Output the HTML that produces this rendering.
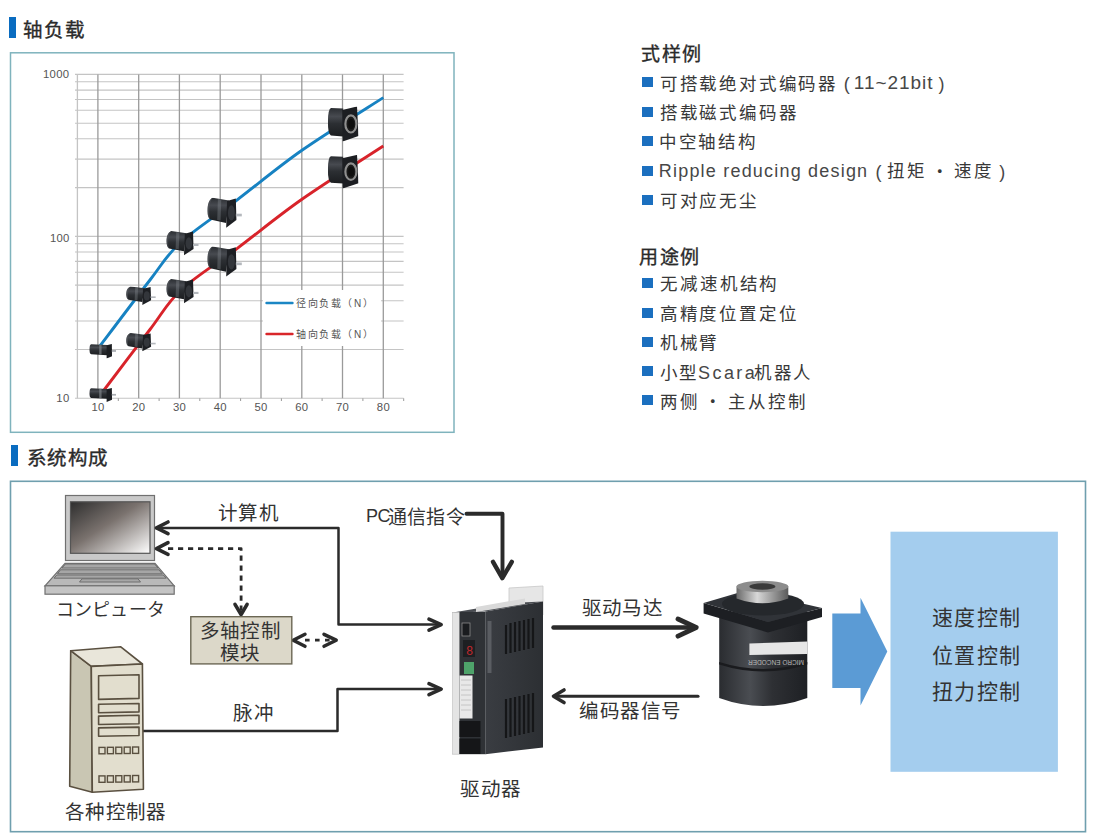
<!DOCTYPE html>
<html lang="zh-CN"><head><meta charset="utf-8">
<style>
html,body{margin:0;padding:0;background:#fff;}
body{width:1098px;height:840px;position:relative;overflow:hidden;font-family:"Liberation Sans",sans-serif;color:#333;}
.t{position:absolute;white-space:nowrap;line-height:1;}
.h{font-size:20px;font-weight:bold;color:#2a2a2a;}
.sub{font-size:18px;font-weight:bold;color:#2a2a2a;}
.li{font-size:18px;color:#3a3a3a;letter-spacing:1.8px;}
.sq{position:absolute;width:11px;height:10px;background:#1b6fbf;}
.bar{position:absolute;background:#0a6cc0;}
.ax{font-size:11px;color:#444;}
.lg{font-size:10px;color:#555;letter-spacing:1.5px;}
.dg{font-size:19px;color:#333;}
svg{position:absolute;left:0;top:0;}
</style></head><body>
<svg width="1098" height="840" viewBox="0 0 1098 840">
<!-- chart box -->
<rect x="10.5" y="52.8" width="443.5" height="379.5" fill="none" stroke="#7fb3bd" stroke-width="1.5"/>
<g stroke="#c4c4c4" stroke-width="1.1">
<line x1="75" y1="398.3" x2="403.6" y2="398.3"/>
<line x1="75" y1="349.5" x2="403.6" y2="349.5"/>
<line x1="75" y1="321.0" x2="403.6" y2="321.0"/>
<line x1="75" y1="300.8" x2="403.6" y2="300.8"/>
<line x1="75" y1="285.1" x2="403.6" y2="285.1"/>
<line x1="75" y1="272.3" x2="403.6" y2="272.3"/>
<line x1="75" y1="261.4" x2="403.6" y2="261.4"/>
<line x1="75" y1="252.0" x2="403.6" y2="252.0"/>
<line x1="75" y1="243.8" x2="403.6" y2="243.8"/>
<line x1="75" y1="236.4" x2="403.6" y2="236.4"/>
<line x1="75" y1="187.6" x2="403.6" y2="187.6"/>
<line x1="75" y1="159.1" x2="403.6" y2="159.1"/>
<line x1="75" y1="138.8" x2="403.6" y2="138.8"/>
<line x1="75" y1="123.2" x2="403.6" y2="123.2"/>
<line x1="75" y1="110.3" x2="403.6" y2="110.3"/>
<line x1="75" y1="99.5" x2="403.6" y2="99.5"/>
<line x1="75" y1="90.1" x2="403.6" y2="90.1"/>
<line x1="75" y1="81.8" x2="403.6" y2="81.8"/>
<line x1="75" y1="74.4" x2="403.6" y2="74.4"/>

</g>
<g stroke="#9a9a9a" stroke-width="1.3">

<line x1="97.9" y1="74.4" x2="97.9" y2="398.3"/>
<line x1="138.7" y1="74.4" x2="138.7" y2="398.3"/>
<line x1="179.4" y1="74.4" x2="179.4" y2="398.3"/>
<line x1="220.2" y1="74.4" x2="220.2" y2="398.3"/>
<line x1="261.0" y1="74.4" x2="261.0" y2="398.3"/>
<line x1="301.8" y1="74.4" x2="301.8" y2="398.3"/>
<line x1="342.5" y1="74.4" x2="342.5" y2="398.3"/>
<line x1="383.3" y1="74.4" x2="383.3" y2="398.3"/>

<line x1="77.4" y1="74.4" x2="77.4" y2="398.3" stroke="#c4c4c4"/>
</g>
<g stroke="#999" stroke-width="1">

<line x1="118.3" y1="398.3" x2="118.3" y2="401"/>
<line x1="159.1" y1="398.3" x2="159.1" y2="401"/>
<line x1="199.8" y1="398.3" x2="199.8" y2="401"/>
<line x1="240.6" y1="398.3" x2="240.6" y2="401"/>
<line x1="281.4" y1="398.3" x2="281.4" y2="401"/>
<line x1="322.1" y1="398.3" x2="322.1" y2="401"/>
<line x1="362.9" y1="398.3" x2="362.9" y2="401"/>
<line x1="403.7" y1="398.3" x2="403.7" y2="401"/>
</g>
<!-- legend bg -->
<rect x="263" y="290" width="118" height="56" fill="#fff"/>
<line x1="266.5" y1="303" x2="292.5" y2="303" stroke="#1b86c4" stroke-width="2.4" stroke-linecap="round"/>
<line x1="266.5" y1="334" x2="292.5" y2="334" stroke="#d9262a" stroke-width="2.4" stroke-linecap="round"/>
<!-- curves -->
<path id="blue" d="M100,346 C108.3,335.0 136.7,297.2 150,280 C163.3,262.8 165.7,256.2 180,243 C194.3,229.8 215.7,216.2 236,200.8 C256.3,185.4 277.1,167.7 301.6,150.5 C326.2,133.3 369.7,106.4 383.3,97.6" fill="none" stroke="#1782c2" stroke-width="2.9" stroke-linejoin="round"/>
<path id="red" d="M103.3,391 C111.1,380.8 137.1,346.3 150,329.5 C162.9,312.7 166.6,303.4 181,290 C195.4,276.6 216.6,263.9 236.7,248.8 C256.8,233.7 277.2,216.6 301.6,199.5 C326.0,182.4 369.7,154.9 383.3,146" fill="none" stroke="#d8232a" stroke-width="2.9" stroke-linejoin="round"/>
<defs>
<linearGradient id="mbody" x1="0" y1="0" x2="0" y2="1">
<stop offset="0" stop-color="#2a2d31"/><stop offset="0.3" stop-color="#474a50"/><stop offset="0.55" stop-color="#2c2f33"/><stop offset="1" stop-color="#1b1d20"/>
</linearGradient>
<symbol id="gm" viewBox="0 0 36 32" preserveAspectRatio="none">
<path d="M5.5,0 L22.5,3 L19.5,26.5 L3,22.8 C-1.2,20 -1.2,3 5.5,0 Z" fill="url(#mbody)"/>
<path d="M5.5,0 C-1.2,3 -1.2,20 3,22.8 C1.5,18 1.5,5 5.5,0 Z" fill="#55585e" opacity="0.6"/>
<path d="M11,1.2 L14.5,1.8 L13.8,24 L10.3,23.3 Z" fill="#8a8e94" opacity="0.35"/>
<polygon points="20.5,3.5 29.6,0.8 30.2,23.5 19.6,31.6" fill="#1d1f23"/>
<ellipse cx="25" cy="16" rx="3.6" ry="8" fill="#33363b"/>
<rect x="29.6" y="16.8" width="6.2" height="2.8" fill="#b4b8bd"/>
</symbol>
<symbol id="gs" viewBox="0 0 27 15" preserveAspectRatio="none">
<path d="M2,0.3 L18,1.2 L18,11.5 L2,10.6 Q0,10 0,5.5 Q0,1 2,0.3 Z" fill="url(#mbody)"/>
<rect x="10" y="0.8" width="2.4" height="10" fill="#8b8f95" opacity="0.6"/>
<polygon points="17.5,1.5 22.8,0.2 23,12.5 17.5,14.8" fill="#1c1e22"/>
<rect x="22.8" y="6.3" width="4.2" height="1.8" fill="#a9adb2"/>
</symbol>
<symbol id="hm" viewBox="0 0 31 35" preserveAspectRatio="none">
<path d="M3,1.5 L15.5,2 L15.5,30 L3,29 Q0,27.5 0,15.3 Q0,3 3,1.5 Z" fill="url(#mbody)"/>
<polygon points="14.5,3.5 29.5,0 31,29.5 15,35" fill="#1c1e22"/>
<ellipse cx="23.3" cy="17.5" rx="5.6" ry="8.6" fill="#1a1a1a" stroke="#8e8e8e" stroke-width="2.2"/>
<ellipse cx="23.6" cy="17.5" rx="3" ry="5" fill="#0e0e0e"/>
</symbol>
</defs>
<use href="#gs" x="89.3" y="343.9" width="26.7" height="14.7"/>
<use href="#gs" x="89.3" y="387.9" width="26.7" height="14.3"/>
<use href="#gm" x="126.1" y="286.6" width="29.8" height="18.6"/>
<use href="#gm" x="126.1" y="333" width="29.8" height="18.6"/>
<use href="#gm" x="166.3" y="231" width="32.5" height="24.5"/>
<use href="#gm" x="166.3" y="279" width="32.5" height="24.5"/>
<use href="#gm" x="207.3" y="197.7" width="34.7" height="30.5"/>
<use href="#gm" x="207.3" y="246.5" width="34.7" height="30.5"/>
<use href="#hm" x="327.9" y="106.4" width="30.6" height="35"/>
<use href="#hm" x="327.9" y="154.9" width="30.6" height="33.5"/>

<!-- outer diagram box -->
<rect x="10.5" y="481.3" width="1075" height="350.4" fill="none" stroke="#6f9fae" stroke-width="1.6"/>
<!-- laptop -->
<defs>
<linearGradient id="scr" x1="0" y1="0" x2="1" y2="1">
<stop offset="0" stop-color="#2e2e2e"/><stop offset="0.45" stop-color="#7a726e"/><stop offset="1" stop-color="#ffffff"/>
</linearGradient>
<linearGradient id="drvside" x1="0" y1="0" x2="1" y2="0">
<stop offset="0" stop-color="#3a3d42"/><stop offset="1" stop-color="#2c2f33"/>
</linearGradient>
<linearGradient id="encbody" x1="0" y1="0" x2="1" y2="0">
<stop offset="0" stop-color="#2a2c30"/><stop offset="0.35" stop-color="#4a4d52"/><stop offset="0.6" stop-color="#2e3034"/><stop offset="1" stop-color="#1e2024"/>
</linearGradient>
<linearGradient id="boss" x1="0" y1="0" x2="1" y2="0">
<stop offset="0" stop-color="#6a6a6a"/><stop offset="0.4" stop-color="#d8d8d8"/><stop offset="1" stop-color="#5a5a5a"/>
</linearGradient>
</defs>
<rect x="65.5" y="495.5" width="89" height="65" fill="#c9c9c9" stroke="#707070" stroke-width="1.2"/>
<rect x="70.5" y="501.8" width="79.5" height="51.5" fill="url(#scr)" stroke="#555" stroke-width="1.2"/>
<polygon points="65,563.3 155,563.3 174.2,585.8 45,585.8" fill="#b9b9b9" stroke="#707070" stroke-width="1.2"/>
<rect x="45" y="585.8" width="129.2" height="8.4" fill="#c4c4c4" stroke="#707070" stroke-width="1.2"/>
<g fill="#a6a6a6" stroke="#6e6e6e" stroke-width="1">
<polygon points="65.5,564 154.5,564 158,568 62,568"/>
<polygon points="60.5,569.8 159,569.8 162.2,573.8 57.5,573.8"/>
<polygon points="56.8,575 163.2,575 166.2,578.2 54,578.2"/>
<polygon points="82,578.8 138,578.8 140.5,582 79.5,582"/>
</g>
<!-- arrows -->
<g fill="none" stroke="#2b2b2b" stroke-linecap="round" stroke-linejoin="round">
<polyline points="156,527.9 338.5,527.9 338.5,624.6 440,624.6" stroke-width="2.5"/>
<polyline points="168,522 156.5,527.9 168,533.7" stroke-width="3.6"/>
<polyline points="429,619.2 441.2,624.6 429,630.2" stroke-width="3.6"/>
<polyline points="143.5,731 337.5,731 337.5,689.1 440,689.1" stroke-width="2.5"/>
<polyline points="429,683.7 441.2,689.1 429,694.7" stroke-width="3.6"/>
<polyline points="466.5,513.8 502.5,513.8 502.5,576" stroke-width="3.9"/>
<polyline points="493,561.8 502.3,578.2 511.8,561.8" stroke-width="4.4"/>
<polyline points="168,542.6 156.5,548.6 168,554.4" stroke-width="3.6"/>
<polyline points="168,548.6 241.1,548.6 241.1,612" stroke-width="2.8" stroke-dasharray="5.2,4.8" stroke-linecap="butt"/>
<polyline points="235,604.3 241.1,614.5 247.1,604.3" stroke-width="3.6"/>
<polyline points="305,634.3 293.2,640.2 305,646.3" stroke-width="3.5"/>
<line x1="305" y1="640.2" x2="330.5" y2="640.2" stroke-width="2.8" stroke-dasharray="4.6,5.4" stroke-linecap="butt"/>
<polyline points="324,634.3 336.2,640.2 324,646.3" stroke-width="3.5"/>
<line x1="553.5" y1="627.5" x2="694" y2="627.5" stroke-width="4.5"/>
<polyline points="678,619 696.2,627.5 678,636.2" stroke-width="4.8"/>
<line x1="555" y1="696.2" x2="698" y2="696.2" stroke-width="3.1"/>
<polyline points="564,690 553.5,696.2 564,702.5" stroke-width="3.6"/>
</g>
<!-- multi-axis module box -->
<rect x="190.8" y="616.7" width="101" height="47.2" fill="#dcd8c9" stroke="#6b6754" stroke-width="1.4"/>
<!-- controller tower -->
<g stroke="#5a5040" stroke-width="1.6" stroke-linejoin="round">
<polygon points="70.7,650.7 91.3,666.4 92.3,792.2 69.7,786.3" fill="#c9c6b3"/>
<polygon points="70.7,650.7 120.8,646.8 142.4,664 91.3,666.4" fill="#e9e6da"/>
<polygon points="91.3,666.4 142.4,664 143.4,789.2 92.3,792.2" fill="#e2dece"/>
<polygon points="98.6,675.8 139,674.8 139,698.4 98.6,699.4" fill="#e2dece"/>
<polygon points="98.6,704.3 139,703.5 139,711.9 98.6,712.7" fill="#e2dece"/>
<polygon points="98.6,716.1 139,715.3 139,723.7 98.6,724.5" fill="#e2dece"/>
<polygon points="98.6,727.9 139,727.1 139,735.5 98.6,736.3" fill="#e2dece"/>
</g>
<g stroke="#5a5040" stroke-width="1.4" fill="#e2dece">
<rect x="99" y="747.4" width="6" height="6.4"/><rect x="107.4" y="747.3" width="6" height="6.4"/><rect x="115.8" y="747.2" width="6" height="6.4"/><rect x="124.2" y="747.1" width="6" height="6.4"/><rect x="132.6" y="747" width="6" height="6.4"/>
<rect x="99" y="775.9" width="6" height="6.4"/><rect x="107.4" y="775.8" width="6" height="6.4"/><rect x="115.8" y="775.7" width="6" height="6.4"/><rect x="124.2" y="775.6" width="6" height="6.4"/><rect x="132.6" y="775.5" width="6" height="6.4"/>
</g>
<!-- driver -->
<polygon points="509,588 543,586 543,615 509,617" fill="#e6e6e6" stroke="#c8c8c8" stroke-width="0.8"/>
<polygon points="528,738 542,736 542,745 528,747" fill="#e0e0e0"/>
<polygon points="451.5,612.8 485.5,611.5 543,601.5 509,603" fill="#4a4d52"/>
<polygon points="476,607 525,598.5 525,604 476,612" fill="#d9d9d9"/>
<polygon points="485.4,611.5 543,601.5 543,747.4 485.4,754.2" fill="url(#drvside)"/>
<rect x="452.6" y="612.5" width="7" height="141.7" fill="#e4e4e4" stroke="#bbb" stroke-width="0.6"/>
<rect x="459.5" y="612" width="26" height="142.2" fill="#2f3236"/>
<rect x="462" y="623" width="8" height="13" fill="#1a1c1f" stroke="#8a8a8a" stroke-width="0.8"/><rect x="487.5" y="621" width="4" height="52" fill="#5a5d62"/>
<rect x="463" y="640" width="12" height="17" fill="#1d1f22"/>
<text x="466" y="655" font-size="12" fill="#c0282c" font-family="Liberation Mono">8</text>
<rect x="464" y="662" width="10" height="12" fill="#4ea36a"/>
<rect x="459.5" y="675.5" width="13" height="43" fill="#e8e8e8"/><g stroke="#bdbdbd" stroke-width="0.8"><line x1="461" y1="680" x2="471" y2="680"/><line x1="461" y1="685" x2="471" y2="685"/><line x1="461" y1="690" x2="471" y2="690"/><line x1="461" y1="695" x2="471" y2="695"/><line x1="461" y1="700" x2="471" y2="700"/><line x1="461" y1="705" x2="471" y2="705"/><line x1="461" y1="710" x2="471" y2="710"/></g>
<rect x="459.5" y="721" width="21" height="16" fill="#151618"/>
<rect x="459.5" y="738.5" width="21" height="15.5" fill="#151618"/>
<g stroke="#151618" stroke-width="2.2">
<line x1="506" y1="625" x2="506" y2="654"/><line x1="510.5" y1="623" x2="510.5" y2="653"/><line x1="515" y1="622" x2="515" y2="652"/><line x1="519.5" y1="621" x2="519.5" y2="651"/><line x1="524" y1="620" x2="524" y2="650"/><line x1="528.5" y1="619" x2="528.5" y2="649"/><line x1="533" y1="618" x2="533" y2="648"/>
<line x1="506" y1="699" x2="506" y2="738"/><line x1="510.5" y1="698" x2="510.5" y2="737"/><line x1="515" y1="697" x2="515" y2="736"/><line x1="519.5" y1="696" x2="519.5" y2="735"/><line x1="524" y1="695" x2="524" y2="734"/><line x1="528.5" y1="694" x2="528.5" y2="733"/><line x1="533" y1="693" x2="533" y2="732"/>
</g>
<!-- encoder motor -->
<path d="M719.2,612 L719.2,698 Q763.2,714 807.3,698 L807.3,612 Z" fill="url(#encbody)"/>
<path d="M719.2,662 Q763.2,676 807.3,662 L807.3,664.5 Q763.2,678.5 719.2,664.5 Z" fill="#1a1b1e"/>
<polygon points="703.6,603 768,622 822,608 822,617 768,632.5 703.6,613.5" fill="#1d1f23"/>
<polygon points="703.6,603 746,590.5 822,608 768,622" fill="#303338"/>
<ellipse cx="763" cy="604" rx="41" ry="11.5" fill="#25282c"/>
<path d="M736.5,586.5 L736.5,598.5 Q762.4,608 788.3,598.5 L788.3,586.5 Z" fill="url(#boss)"/>
<ellipse cx="762.4" cy="586.5" rx="25.9" ry="5.8" fill="#8c8c8c"/>
<ellipse cx="762.4" cy="586.5" rx="13" ry="3.2" fill="#3a3a3a"/>
<polygon points="749.4,643.5 807.3,641.5 807.3,654 749.4,655" fill="#e6e6e6"/>
<text x="750" y="668" font-size="6.5" fill="#b8b8b8" font-family="Liberation Sans" transform="rotate(180 777 664)">MICRO ENCODER</text>
<!-- blue block arrow -->
<polygon points="832.3,613.5 860.5,613.5 860.5,597.8 887.3,651.5 860.5,705.6 860.5,688 832.3,688" fill="#5b9bd5"/>
<!-- light blue box -->
<rect x="890.5" y="531.7" width="167.4" height="240.1" fill="#a4cdee"/>

</svg>
<div class="bar" style="left:9px;top:17px;width:6.5px;height:21px"></div>
<div class="bar" style="left:11px;top:445px;width:7px;height:21px"></div>
<div class="sq" style="left:641.8px;top:77px"></div>
<div class="sq" style="left:641.8px;top:106.7px"></div>
<div class="sq" style="left:641.8px;top:135.8px"></div>
<div class="sq" style="left:641.8px;top:165.5px"></div>
<div class="sq" style="left:641.8px;top:195px"></div>
<div class="sq" style="left:641.8px;top:277.5px"></div>
<div class="sq" style="left:641.8px;top:307.5px"></div>
<div class="sq" style="left:641.8px;top:336.7px"></div>
<div class="sq" style="left:641.8px;top:365.8px"></div>
<div class="sq" style="left:641.8px;top:395.3px"></div>
<!-- TEXT -->
<div class="t" style="left:23.3px;top:20.8px;font-size:19.5px;letter-spacing:1px;color:#2a2a2a;-webkit-text-stroke:0.35px #2a2a2a">轴负载</div>
<div class="t" style="left:26.9px;top:449.2px;font-size:19.5px;letter-spacing:0.5px;color:#2a2a2a;-webkit-text-stroke:0.35px #2a2a2a">系统构成</div>
<div class="t" style="left:640.7px;top:45.4px;font-size:19px;letter-spacing:1.9px;color:#2a2a2a;-webkit-text-stroke:0.35px #2a2a2a">式样例</div>
<div class="t" style="left:638.7px;top:247.6px;font-size:19px;letter-spacing:1.9px;color:#2a2a2a;-webkit-text-stroke:0.35px #2a2a2a">用途例</div>
<div class="t" style="left:659.8px;top:75.6px;font-size:17.5px;letter-spacing:2.8px;color:#383838;font-weight:300">可搭载绝对式编码器</div>
<div class="t" style="left:843.8px;top:74.5px;font-size:18px;letter-spacing:1.2px;color:#474747">(</div>
<div class="t" style="left:853.8px;top:73.0px;font-size:19px;letter-spacing:0.95px;color:#474747">11~21bit</div>
<div class="t" style="left:938.6px;top:74.5px;font-size:18px;letter-spacing:1.2px;color:#474747">)</div>
<div class="t" style="left:659.8px;top:104.8px;font-size:17.5px;letter-spacing:2.8px;color:#383838;font-weight:300">搭载磁式编码器</div>
<div class="t" style="left:658.8px;top:134.1px;font-size:17.5px;letter-spacing:2.8px;color:#383838;font-weight:300">中空轴结构</div>
<div class="t" style="left:658.8px;top:162.2px;font-size:18px;letter-spacing:1.2px;color:#474747">Ripple reducing design</div>
<div class="t" style="left:875.4px;top:163.0px;font-size:18px;letter-spacing:1.2px;color:#474747">(</div>
<div class="t" style="left:887.4px;top:163.3px;font-size:17.5px;letter-spacing:2.8px;color:#383838;font-weight:300">扭矩</div>
<div class="t" style="left:931.3px;top:163.5px;font-size:17.5px;letter-spacing:2.8px;color:#383838;font-weight:300">・</div>
<div class="t" style="left:954.0px;top:163.3px;font-size:17.5px;letter-spacing:2.8px;color:#383838;font-weight:300">速度</div>
<div class="t" style="left:999.3px;top:163.0px;font-size:18px;letter-spacing:1.2px;color:#474747">)</div>
<div class="t" style="left:659.8px;top:192.6px;font-size:17.5px;letter-spacing:2.8px;color:#383838;font-weight:300">可对应无尘</div>
<div class="t" style="left:660.4px;top:276.4px;font-size:17.5px;letter-spacing:2.8px;color:#383838;font-weight:300">无减速机结构</div>
<div class="t" style="left:659.8px;top:305.8px;font-size:17.5px;letter-spacing:2.8px;color:#383838;font-weight:300">高精度位置定位</div>
<div class="t" style="left:659.8px;top:335.1px;font-size:17.5px;letter-spacing:2.8px;color:#383838;font-weight:300">机械臂</div>
<div class="t" style="left:659.6px;top:364.5px;font-size:17.5px;letter-spacing:2.8px;color:#383838;font-weight:300">小型</div>
<div class="t" style="left:698.1px;top:363.5px;font-size:18px;letter-spacing:2.4px;color:#474747">Scara</div>
<div class="t" style="left:753.9px;top:364.5px;font-size:17.5px;letter-spacing:2.8px;color:#383838;font-weight:300">机器人</div>
<div class="t" style="left:660.4px;top:393.9px;font-size:17.5px;letter-spacing:2.8px;color:#383838;font-weight:300">两侧</div>
<div class="t" style="left:704.4px;top:393.5px;font-size:17.5px;letter-spacing:2.8px;color:#383838;font-weight:300">・</div>
<div class="t" style="left:728.4px;top:393.9px;font-size:17.5px;letter-spacing:2.8px;color:#383838;font-weight:300">主从控制</div>
<div class="t" style="left:43.0px;top:69.2px;font-size:11.3px;letter-spacing:0.3px;color:#555">1000</div>
<div class="t" style="left:49.9px;top:232.5px;font-size:11.3px;letter-spacing:0.3px;color:#555">100</div>
<div class="t" style="left:56.3px;top:393.0px;font-size:11.3px;letter-spacing:0.3px;color:#555">10</div>
<div class="t" style="left:296.0px;top:299.2px;font-size:10px;letter-spacing:1.6px;color:#555;font-weight:300">径向负载（N）</div>
<div class="t" style="left:296.0px;top:329.6px;font-size:10px;letter-spacing:1.6px;color:#555;font-weight:300">轴向负载（N）</div>
<div class="t" style="left:218.1px;top:503.7px;font-size:19.5px;letter-spacing:0.4px;color:#333;font-weight:300">计算机</div>
<div class="t" style="left:366.0px;top:507.0px;font-size:18px;letter-spacing:-0.6px;color:#333">PC</div>
<div class="t" style="left:388.0px;top:507.5px;font-size:19px;letter-spacing:0.2px;color:#333;font-weight:300">通信指令</div>
<div class="t" style="left:55.5px;top:600.7px;font-size:18px;letter-spacing:0.3px;color:#333;font-weight:300">コンピュータ</div>
<div class="t" style="left:199.5px;top:622.2px;font-size:19.5px;letter-spacing:0.4px;color:#333;font-weight:300">多轴控制</div>
<div class="t" style="left:220.1px;top:644.2px;font-size:19.5px;letter-spacing:0.4px;color:#333;font-weight:300">模块</div>
<div class="t" style="left:233.3px;top:704.3px;font-size:19.5px;letter-spacing:0.4px;color:#333;font-weight:300">脉冲</div>
<div class="t" style="left:64.9px;top:803.1px;font-size:19.5px;letter-spacing:0.4px;color:#333;font-weight:300">各种控制器</div>
<div class="t" style="left:460.3px;top:779.5px;font-size:19.5px;letter-spacing:0.4px;color:#333;font-weight:300">驱动器</div>
<div class="t" style="left:581.6px;top:599.2px;font-size:19.5px;letter-spacing:0.4px;color:#333;font-weight:300">驱动马达</div>
<div class="t" style="left:579.4px;top:702.1px;font-size:19.5px;letter-spacing:0.4px;color:#333;font-weight:300">编码器信号</div>
<div class="t" style="left:932.1px;top:607.4px;font-size:21px;letter-spacing:1.3px;color:#333;font-weight:300">速度控制</div>
<div class="t" style="left:932.1px;top:644.8px;font-size:21px;letter-spacing:1.3px;color:#333;font-weight:300">位置控制</div>
<div class="t" style="left:932.1px;top:681.4px;font-size:21px;letter-spacing:1.3px;color:#333;font-weight:300">扭力控制</div>
<div class="t" style="left:91.4px;top:401.9px;font-size:11.3px;letter-spacing:0.3px;color:#555">10</div>
<div class="t" style="left:132.2px;top:401.9px;font-size:11.3px;letter-spacing:0.3px;color:#555">20</div>
<div class="t" style="left:172.9px;top:401.9px;font-size:11.3px;letter-spacing:0.3px;color:#555">30</div>
<div class="t" style="left:213.7px;top:401.9px;font-size:11.3px;letter-spacing:0.3px;color:#555">40</div>
<div class="t" style="left:254.5px;top:401.9px;font-size:11.3px;letter-spacing:0.3px;color:#555">50</div>
<div class="t" style="left:295.2px;top:401.9px;font-size:11.3px;letter-spacing:0.3px;color:#555">60</div>
<div class="t" style="left:336.0px;top:401.9px;font-size:11.3px;letter-spacing:0.3px;color:#555">70</div>
<div class="t" style="left:376.8px;top:401.9px;font-size:11.3px;letter-spacing:0.3px;color:#555">80</div>
</body></html>
